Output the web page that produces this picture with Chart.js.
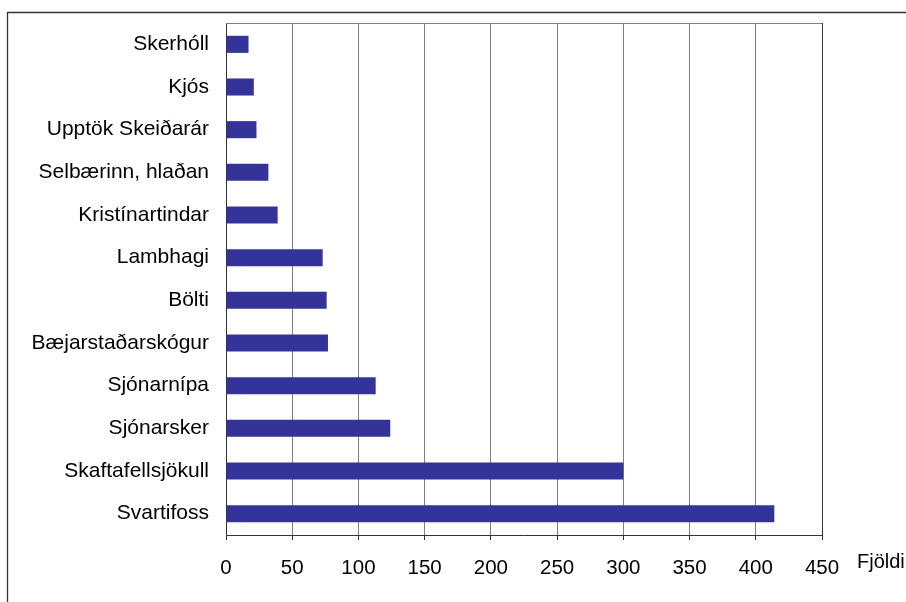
<!DOCTYPE html>
<html>
<head>
<meta charset="utf-8">
<script src="https://cdn.jsdelivr.net/npm/chart.js@4"></script>
<style>
  html, body { margin: 0; padding: 0; background: #fff; }
  #wrap { width: 906px; height: 602px; position: relative; }
</style>
</head>
<body>
<div id="wrap"><canvas id="myChart" width="906" height="602"></canvas></div>
<script>
/* data */
const places = ['Skerhóll', 'Kjós', 'Upptök Skeiðarár', 'Selbærinn, hlaðan', 'Kristínartindar',
  'Lambhagi', 'Bölti', 'Bæjarstaðarskógur', 'Sjónarnípa', 'Sjónarsker', 'Skaftafellsjökull', 'Svartifoss'];
const counts = [17, 21, 23, 32, 39, 73, 76, 77, 113, 124, 300, 414];
const axisTitle = 'Fjöldi';

const font = 'Liberation Sans, Arial, sans-serif';

/* frame, top edge of plot and axis title */
const extras = {
  id: 'extras',
  beforeDraw(chart) {
    const c = chart.ctx;
    c.save();
    c.fillStyle = '#fff';
    c.fillRect(0, 0, chart.width, chart.height);
    c.strokeStyle = '#333';
    c.lineWidth = 1.3;
    c.beginPath();
    c.moveTo(7.5, chart.height);
    c.lineTo(7.5, 12.5);
    c.lineTo(chart.width, 12.5);
    c.stroke();
    c.restore();
  },
  afterDraw(chart) {
    const c = chart.ctx;
    const a = chart.chartArea;
    c.save();
    c.strokeStyle = '#808080';
    c.lineWidth = 1;
    c.beginPath();
    c.moveTo(a.left, Math.round(a.top) + 0.5);
    c.lineTo(a.right, Math.round(a.top) + 0.5);
    c.stroke();
    c.strokeStyle = '#333';
    c.beginPath();
    c.moveTo(Math.round(a.right) + 0.5, a.top);
    c.lineTo(Math.round(a.right) + 0.5, a.bottom);
    c.stroke();
    c.fillStyle = '#000';
    c.font = '20px ' + font;
    c.textBaseline = 'alphabetic';
    c.textAlign = 'left';
    c.fillText(axisTitle, 857, 568);
    c.restore();
  }
};

var ctx = document.getElementById('myChart').getContext('2d');

// eslint-disable-next-line no-undef
var chart = new Chart(ctx, {
  type: 'bar',
  data: {
    labels: places,
    datasets: [{
      label: axisTitle,
      backgroundColor: '#333399',
      borderWidth: 0,
      data: counts,
      barPercentage: 0.4,
      categoryPercentage: 1
    }]
  },
  options: {
    indexAxis: 'y',
    responsive: false,
    animation: false,
    layout: { padding: { top: 23, right: 84, left: 0, bottom: 0 } },
    plugins: { legend: { display: false }, tooltip: { enabled: false } },
    scales: {
      x: {
        min: 0,
        max: 450,
        ticks: { stepSize: 50, color: '#000', padding: 16, font: { family: font, size: 20.5 } },
        grid: { color: '#808080', tickColor: '#333', tickLength: 5, lineWidth: 1 },
        border: { display: true, color: '#333', width: 1 },
        afterFit(scale) { scale.height = 67; }
      },
      y: {
        ticks: { color: '#000', padding: 17, font: { family: font, size: 21 } },
        grid: { display: false, drawTicks: false },
        border: { display: true, color: '#333', width: 1 },
        afterFit(scale) {
          scale.width = 226;
          scale.paddingTop = 0;
          scale.paddingBottom = 0;
        }
      }
    }
  },
  plugins: [extras]
});
</script>
</body>
</html>
